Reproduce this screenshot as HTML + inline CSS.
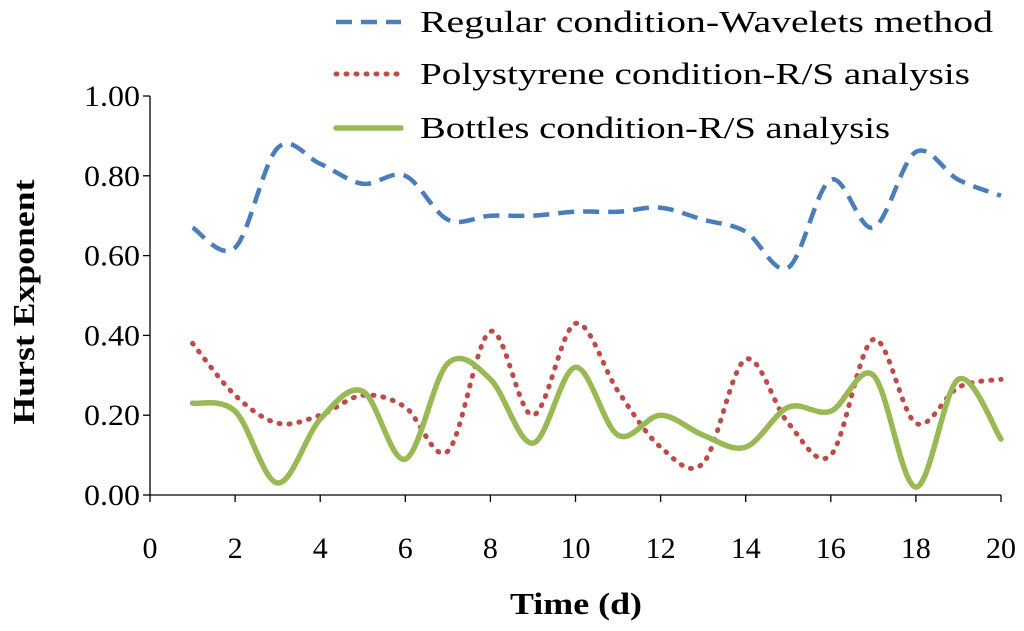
<!DOCTYPE html>
<html><head><meta charset="utf-8"><style>
body{margin:0;background:#fff}
svg text{font-family:"Liberation Serif",serif;fill:#000}
</style></head><body>
<svg id="chart" width="1024" height="626" xmlns="http://www.w3.org/2000/svg">
<g id="axes"></g><g id="series"></g><g id="legend"></g>
</svg>
<script>
const days=[1,2,3,4,5,6,7,8,9,10,11,12,13,14,15,16,17,18,19,20];
const regularWavelets=[0.67,0.62,0.87,0.83,0.78,0.80,0.69,0.70,0.70,0.71,0.71,0.72,0.69,0.66,0.57,0.79,0.67,0.86,0.79,0.75];
const polystyreneRS=[0.38,0.25,0.18,0.20,0.25,0.22,0.11,0.41,0.20,0.43,0.26,0.12,0.08,0.34,0.18,0.10,0.39,0.18,0.27,0.29];
const bottlesRS=[0.23,0.21,0.03,0.19,0.26,0.09,0.33,0.29,0.13,0.32,0.15,0.20,0.15,0.12,0.22,0.21,0.30,0.02,0.29,0.14];
const xTicks=[0,2,4,6,8,10,12,14,16,18,20];
const yTicks=[0,0.2,0.4,0.6,0.8,1.0];
const seriesNames=["Regular condition-Wavelets method","Polystyrene condition-R/S analysis","Bottles condition-R/S analysis"];
const NS="http://www.w3.org/2000/svg";
const X=v=>150+v*(1001-150)/20;
const Y=v=>495-v*399;
function mk(tag,attrs,parent){const e=document.createElementNS(NS,tag);for(const k in attrs)e.setAttribute(k,attrs[k]);parent.appendChild(e);return e;}
const ax=document.getElementById('axes');
let e=mk('line',{x1:150,y1:96,x2:150,y2:495,stroke:'#000','stroke-width':1.3},ax);


e=mk('line',{x1:150,y1:495,x2:1001,y2:495,stroke:'#000','stroke-width':1.3},ax);


yTicks.forEach(v=>{
 mk('line',{x1:143,y1:Y(v),x2:150,y2:Y(v),stroke:'#000','stroke-width':1.3},ax);
 const t=mk('text',{x:140,y:Y(v)+10,'text-anchor':'end','font-size':30,textLength:56,lengthAdjust:'spacingAndGlyphs'},ax);t.textContent=v.toFixed(2);
 
 
});
xTicks.forEach(v=>{
 mk('line',{x1:X(v),y1:495,x2:X(v),y2:502,stroke:'#000','stroke-width':1.3},ax);
 const t=mk('text',{x:X(v),y:558,'text-anchor':'middle','font-size':30},ax);t.textContent=v;
 
 
});
let t=mk('text',{x:576,y:614,'text-anchor':'middle','font-size':31,'font-weight':'bold',textLength:132,lengthAdjust:'spacingAndGlyphs'},ax);t.textContent='Time (d)';


t=mk('text',{x:0,y:0,'text-anchor':'middle','font-size':31,'font-weight':'bold',textLength:245,lengthAdjust:'spacingAndGlyphs',transform:'translate(34,302) rotate(-90)'},ax);t.textContent='Hurst Exponent';


function smooth(xs,ys){
 const p=xs.map((x,i)=>[X(x),Y(ys[i])]);
 let d='M'+p[0][0]+','+p[0][1];
 for(let i=0;i<p.length-1;i++){
  const p0=p[i-1]||p[i],p1=p[i],p2=p[i+1],p3=p[i+2]||p[i+1];
  const c1=[p1[0]+(p2[0]-p0[0])/6,p1[1]+(p2[1]-p0[1])/6];
  const c2=[p2[0]-(p3[0]-p1[0])/6,p2[1]-(p3[1]-p1[1])/6];
  d+=` C${c1[0]},${c1[1]} ${c2[0]},${c2[1]} ${p2[0]},${p2[1]}`;
 }
 return d;
}
const styles=[{c:'#4a7ebb',w:4.5,da:'16,9',cap:'butt'},{c:'#be4b48',w:5,da:'1,9',cap:'round'},{c:'#98b954',w:5.5,da:'',cap:'round'}];
const data=[regularWavelets,polystyreneRS,bottlesRS];
const names=['regular-wavelets-line','polystyrene-rs-line','bottles-rs-line'];
const textLens=[573,550,470];
const sg=document.getElementById('series'),lg=document.getElementById('legend');
const ly=[22,74,128];
data.forEach((ys,i)=>{
 const s=styles[i];
 const p=mk('path',{d:smooth(days,ys),fill:'none',stroke:s.c,'stroke-width':s.w,'stroke-dasharray':s.da,'stroke-linecap':s.cap},sg);
 
 
 const g=mk('g',{},lg);
 
 
 mk('line',{x1:336,y1:ly[i],x2:401,y2:ly[i],stroke:s.c,'stroke-width':s.w,'stroke-dasharray':s.da,'stroke-linecap':s.cap},g);
 const tx=mk('text',{x:420,y:ly[i]+10,'font-size':31,textLength:textLens[i],lengthAdjust:'spacingAndGlyphs'},g);tx.textContent=seriesNames[i];
});
</script>
</body></html>
